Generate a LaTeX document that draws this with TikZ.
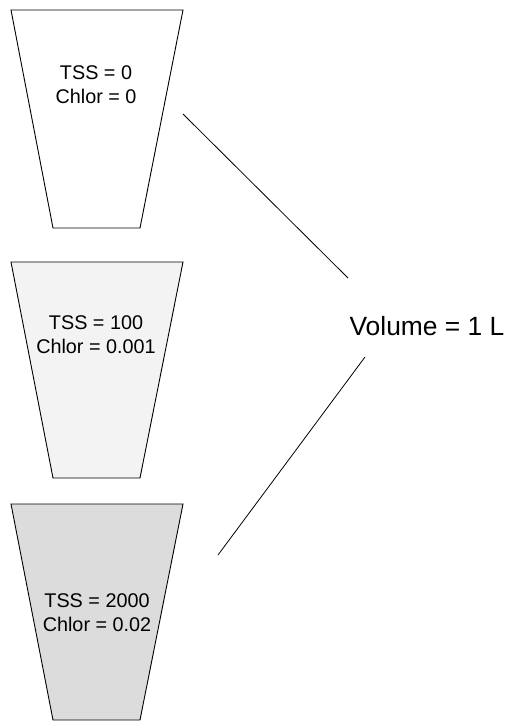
\documentclass[tikz,border=0pt]{standalone}
\usepackage{fontspec}
\setmainfont{Liberation Sans}
\begin{document}
\begin{tikzpicture}[x=1pt,y=-1pt,
  cup/.style={draw=black, line width=0.9pt, line join=miter},
  cuptext/.style={font=\fontsize{19.8}{24}\selectfont, align=center, inner sep=0pt},
  lead/.style={draw=black, line width=0.8pt}]
\definecolor{lightfill}{HTML}{F3F3F3}
\definecolor{darkfill}{HTML}{DCDCDC}
\useasboundingbox (0,0) rectangle (509,721);

% three beakers, top edge wide, bottom edge narrow
\draw[cup, fill=white]     (11,10)  -- (183,10)  -- (140,228) -- (53,228) -- cycle;
\draw[cup, fill=lightfill] (11,262) -- (183,262) -- (140,478) -- (53,478) -- cycle;
\draw[cup, fill=darkfill]  (11,504) -- (183,504) -- (140,720) -- (53,720) -- cycle;

\node[cuptext] (c1) at (96,85)  {TSS = 0\\Chlor = 0};
\node[cuptext] (c2) at (96,335) {TSS = 100\\Chlor = 0.001};
\node[cuptext] (c3) at (97,613) {TSS = 2000\\Chlor = 0.02};

\node[font=\fontsize{26.4}{30}\selectfont, inner sep=0pt] (vol) at (427,326) {Volume = 1 L};

% leader lines
\coordinate (a1) at (183,114);
\coordinate (a2) at (348,278);
\coordinate (b1) at (365,357);
\coordinate (b2) at (218,555);
\draw[lead] (a1) -- (a2);
\draw[lead] (b1) -- (b2);
\end{tikzpicture}
\end{document}
